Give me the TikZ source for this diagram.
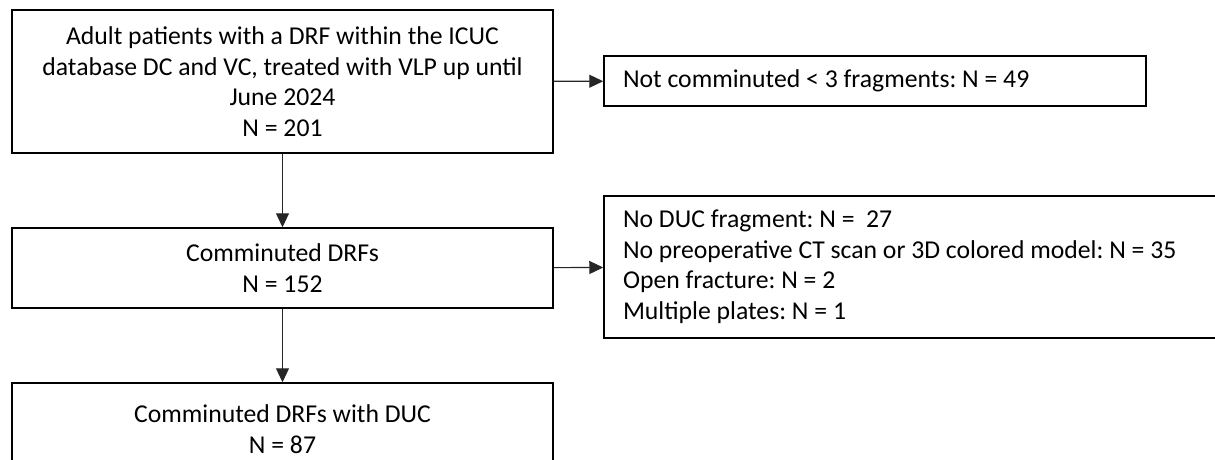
\documentclass[tikz,border=0pt]{standalone}
\usepackage{fontspec}
\setmainfont{Carlito}
\usepackage{tikz}
\usetikzlibrary{arrows.meta,positioning}

\begin{document}
\frenchspacing
\begin{tikzpicture}[
  x=1pt, y=-1pt,
  font=\fontsize{25.7}{30.5}\selectfont,
  box/.style={draw, line width=1.5pt, inner sep=0pt, align=center, minimum width=541pt},
  sidebox/.style={draw, line width=1.5pt, inner ysep=0pt, inner xsep=19pt, align=flush left},
  arrow/.style={-{Triangle[length=14pt,width=13pt]}, line width=1.1pt, black!85}
]
\clip (0,0) rectangle (1215,459);
\fill[white] (0,0) rectangle (1215,459);

\node[box, minimum height=143pt] (all) at (282.5,81.5) {Adult patients with a DRF within the ICUC\\database DC and VC, treated with VLP up until\\June 2024\\N = 201};
\node[box, minimum height=80pt] (comm) at (282.5,268) {Comminuted DRFs\\N = 152};
\node[box, minimum height=92pt] (duc) at (282.5,429) {Comminuted DRFs with DUC\\N = 87};

\node[sidebox, text width=504pt, minimum height=50pt] (notcomm) at (875,81) {Not comminuted < 3 fragments: N = 49};
\node[sidebox, text width=583pt, minimum height=142pt] (excl) at (914.5,267) {No DUC fragment: N =~ 27\\No preoperative CT scan or 3D colored model: N = 35\\Open fracture: N = 2\\Multiple plates: N = 1};

\draw[arrow] (all) -- (comm);
\draw[arrow] (comm) -- (duc);
\draw[arrow] (all) -- (notcomm);
\draw[arrow] (comm) -- (excl);
\end{tikzpicture}
\end{document}
